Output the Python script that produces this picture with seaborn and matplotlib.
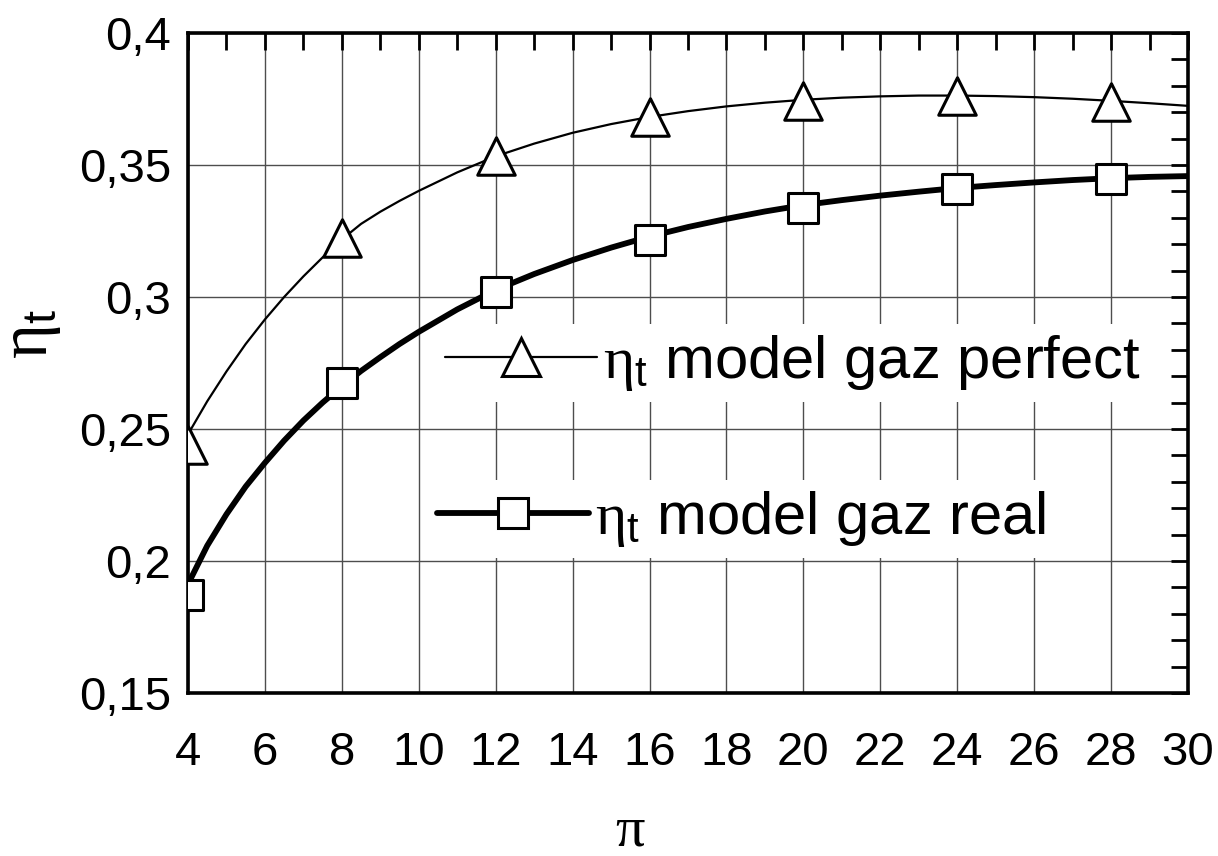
import matplotlib
matplotlib.use("Agg")
import matplotlib.pyplot as plt
import seaborn as sns
from matplotlib.lines import Line2D
from matplotlib.ticker import AutoMinorLocator, FuncFormatter, MultipleLocator

sns.set_style("white")
plt.rcParams['font.family'] = ['Liberation Sans', 'DejaVu Sans']
plt.rcParams['mathtext.fontset'] = 'custom'
plt.rcParams['mathtext.rm'] = 'Liberation Serif'
plt.rcParams['mathtext.it'] = 'Liberation Serif:italic'
plt.rcParams['mathtext.sf'] = 'Liberation Sans'
for key in ['text.color', 'axes.labelcolor', 'xtick.color', 'ytick.color', 'legend.labelcolor']:
    plt.rcParams[key] = 'black'

# smooth curves
pi_curve = [4, 4.5, 5, 5.5, 6, 6.5, 7, 7.5, 8, 8.5, 9, 9.5, 10, 11, 12, 13, 14, 15, 16,
            17, 18, 19, 20, 21, 22, 23, 24, 25, 26, 27, 28, 29, 30]
perfect_curve = [0.248, 0.2605, 0.2718, 0.2822, 0.2915, 0.3000, 0.3078, 0.3150, 0.3218,
                 0.3277, 0.3323, 0.3364, 0.3402, 0.3472, 0.3533, 0.3581, 0.3622, 0.3655,
                 0.3682, 0.3704, 0.3722, 0.3736, 0.3747, 0.3755, 0.3760, 0.3763, 0.3763,
                 0.3761, 0.3757, 0.3751, 0.3743, 0.3734, 0.3724]
real_curve = [0.1912, 0.2058, 0.2177, 0.2282, 0.2372, 0.2456, 0.2532, 0.2600, 0.2662,
              0.2720, 0.2772, 0.2822, 0.2868, 0.2953, 0.3027, 0.3087, 0.3140, 0.3187,
              0.3229, 0.3265, 0.3296, 0.3324, 0.3348, 0.3367, 0.3384, 0.3399, 0.3413,
              0.3424, 0.3434, 0.3443, 0.3450, 0.3455, 0.3458]

# marker points
pi_pts = [4, 8, 12, 16, 20, 24, 28]
perfect_pts = [0.244, 0.3225, 0.3533, 0.368, 0.3743, 0.3761, 0.374]
real_pts = [0.187, 0.2674, 0.3019, 0.3217, 0.3338, 0.341, 0.3447]

label_perfect = r"$\mathrm{\eta}_{\mathsf{t}}$ model gaz perfect"
label_real = r"$\mathrm{\eta}_{\mathsf{t}}$ model gaz real"

fig = plt.figure(figsize=(12.18, 8.56), dpi=100)
ax = fig.add_axes([0.15435, 0.19042, 0.82102, 0.77103])

sns.lineplot(x=pi_curve, y=perfect_curve, ax=ax, color="black", lw=1.6, zorder=2)
sns.lineplot(x=pi_curve, y=real_curve, ax=ax, color="black", lw=4.2, zorder=2)
sns.scatterplot(x=pi_pts, y=perfect_pts, ax=ax, marker="^", s=27 ** 2,
                facecolor="white", edgecolor="black", linewidth=2.2, zorder=3)
sns.scatterplot(x=pi_pts, y=real_pts, ax=ax, marker="s", s=21 ** 2,
                facecolor="white", edgecolor="black", linewidth=2.2, zorder=3)

ax.set_xlim(4, 30)
ax.set_ylim(0.15, 0.4)
ax.xaxis.set_major_locator(MultipleLocator(2))
ax.yaxis.set_major_locator(MultipleLocator(0.05))
ax.xaxis.set_minor_locator(AutoMinorLocator(2))
ax.yaxis.set_minor_locator(AutoMinorLocator(5))
ax.yaxis.set_major_formatter(FuncFormatter(lambda v, p: f"{v:g}".replace(".", ",")))
ax.grid(True, which="major", color="0.3", lw=1.0)
ax.set_axisbelow(True)

ax.tick_params(which="both", direction="in", top=True, right=True, width=2,
               color="black", labelcolor="black")
ax.tick_params(which="major", length=12, labelsize=34)
ax.tick_params(which="minor", length=12)
ax.tick_params(axis="x", pad=27)
ax.tick_params(axis="y", pad=12)
for sp in ax.spines.values():
    sp.set_linewidth(2.6)
    sp.set_color("black")

ax.set_xlabel(r"$\mathrm{\pi}$", fontsize=42, color="black")
ax.xaxis.set_label_coords(0.442, -0.168)
ax.set_ylabel(r"$\mathrm{\eta}_{\mathsf{t}}$", fontsize=48, rotation=90, color="black")
ax.yaxis.set_label_coords(-0.125, 0.544)

h1 = Line2D([], [], color="black", lw=1.6, marker="^", markersize=27,
            markerfacecolor="white", markeredgecolor="black", markeredgewidth=2.2)
h2 = Line2D([], [], color="black", lw=4.2, marker="s", markersize=21,
            markerfacecolor="white", markeredgecolor="black", markeredgewidth=2.2)

common = dict(loc="center left", frameon=True, facecolor="white", edgecolor="none",
              fancybox=False, framealpha=1, borderpad=0.15, handlelength=2.55,
              handletextpad=0.1, borderaxespad=0, fontsize=43, numpoints=1,
              labelcolor="black")
leg1 = ax.legend(handles=[h1], labels=[label_perfect], bbox_to_anchor=(0.248, 0.500), **common)
leg1.set_zorder(1.5)
ax.add_artist(leg1)
leg2 = ax.legend(handles=[h2], labels=[label_real], bbox_to_anchor=(0.240, 0.264), **common)
leg2.set_zorder(1.5)

fig.savefig("out.png", dpi=100)
